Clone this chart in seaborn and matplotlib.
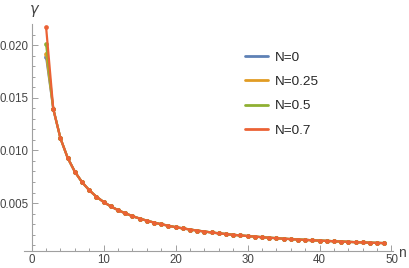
import matplotlib
matplotlib.use("Agg")
import matplotlib.pyplot as plt
import matplotlib.ticker as mticker
import seaborn as sns
import numpy as np
import pandas as pd

# valores (n = 2..49)
n_vals = list(range(2, 50))
cauda = [0.01393, 0.01114, 0.00929, 0.00797, 0.00698, 0.00622, 0.00560, 0.00510,
         0.00468, 0.00433, 0.00403, 0.00376, 0.00353, 0.00333, 0.00315, 0.00299,
         0.00285, 0.00271, 0.00260, 0.00249, 0.00239, 0.00230, 0.00221, 0.00213,
         0.00206, 0.00199, 0.00193, 0.00187, 0.00182, 0.00176, 0.00171, 0.00167,
         0.00162, 0.00158, 0.00154, 0.00151, 0.00147, 0.00144, 0.00141, 0.00138,
         0.00135, 0.00132, 0.00129, 0.00127, 0.00124, 0.00122, 0.00120]
gamma_N0 = [0.0189] + cauda
gamma_N025 = [0.0192] + cauda
gamma_N05 = [0.0201] + cauda
gamma_N07 = [0.0217] + cauda

rotulos = ["N=0", "N=0.25", "N=0.5", "N=0.7"]
cores = ["#5E81B5", "#E19C24", "#8FB032", "#EB6235"]

df = pd.concat([
    pd.DataFrame({"n": n_vals, "gamma": g, "N": r})
    for g, r in zip([gamma_N0, gamma_N025, gamma_N05, gamma_N07], rotulos)
])

sns.set_style("white")
plt.rcParams["font.family"] = ["Liberation Sans", "DejaVu Sans"]
fig = plt.figure(figsize=(4.09, 2.68), dpi=100)
ax = fig.add_axes([0.0587, 0.0634, 0.902, 0.847])

sns.lineplot(data=df, x="n", y="gamma", hue="N", palette=dict(zip(rotulos, cores)),
             marker="o", markersize=3.4, markeredgewidth=0, linewidth=1.6, ax=ax)

ax.set_xlim(-1.07, 50.2)
ax.set_ylim(0.00045, 0.022)

# eixos no estilo Mathematica
cinza = "#a0a0a0"
for s in ["top", "right"]:
    ax.spines[s].set_visible(False)
ax.spines["left"].set_position(("data", 0))
for s in ["left", "bottom"]:
    ax.spines[s].set_color(cinza)
    ax.spines[s].set_linewidth(0.8)

ax.xaxis.set_major_locator(mticker.MultipleLocator(10))
ax.xaxis.set_minor_locator(mticker.MultipleLocator(2))
ax.yaxis.set_major_locator(mticker.FixedLocator([0.005, 0.010, 0.015, 0.020]))
ax.yaxis.set_minor_locator(mticker.FixedLocator([0.001, 0.002, 0.003, 0.004, 0.006, 0.007, 0.008, 0.009,
                                                 0.011, 0.012, 0.013, 0.014, 0.016, 0.017, 0.018, 0.019,
                                                 0.021]))
ax.yaxis.set_major_formatter(mticker.FuncFormatter(lambda v, p: f"{v:.3f}"))
ax.tick_params(which="both", direction="in", color=cinza, width=0.7, labelsize=8.3,
               labelcolor="#444444", bottom=True, left=True, pad=2)
ax.tick_params(which="major", length=4)
ax.tick_params(which="minor", length=2)

ax.set_xlabel("")
ax.set_ylabel("")
fig.text(0.973, 0.056, "n", fontsize=10, color="#444444", ha="left", va="center")
fig.text(0.083, 0.935, "γ", fontsize=10.5, style="italic", color="#444444", ha="center", va="bottom",
         family=["DejaVu Sans"])

ax.legend(loc="upper left", bbox_to_anchor=(0.585, 0.828), bbox_transform=fig.transFigure,
          frameon=False, fontsize=9.7, handlelength=1.75, handletextpad=0.5,
          labelspacing=0.88, borderaxespad=0)
for h in ax.get_legend().legend_handles:
    h.set_marker("")
    h.set_linewidth(2)

fig.savefig("out.png", dpi=100)
